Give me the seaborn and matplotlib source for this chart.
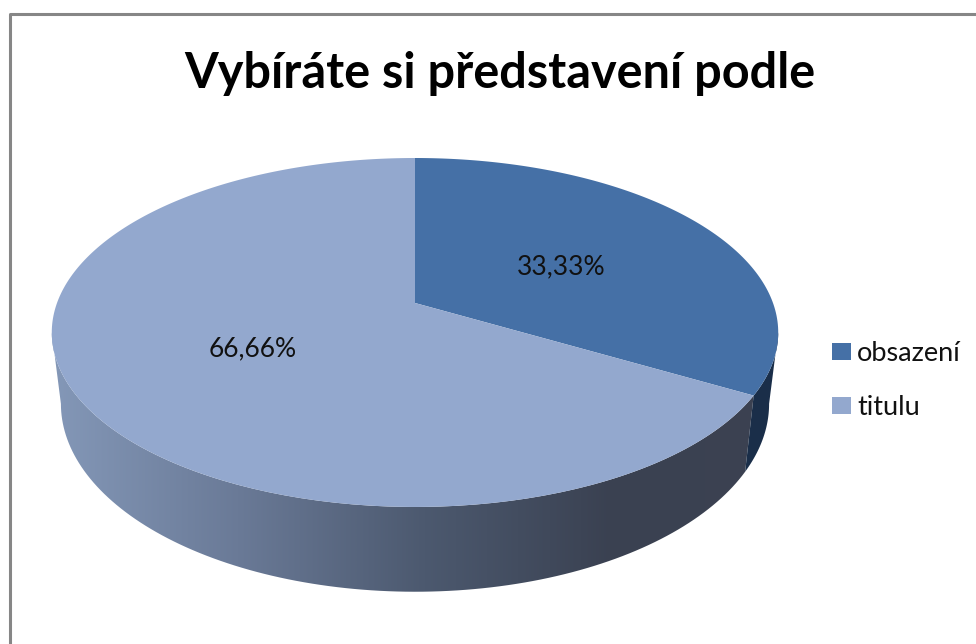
import numpy as np
import matplotlib
matplotlib.use("Agg")
import matplotlib.pyplot as plt
import seaborn as sns
from matplotlib.path import Path
from matplotlib.patches import PathPatch
from matplotlib.transforms import Transform

title = "Vybíráte si představení podle"
labels = ["obsazení", "titulu"]
values = [33.33, 66.66]
value_labels = ["33,33%", "66,66%"]
colors = ["#4570A6", "#93A8CE"]
side_dark = "#1A2E49"
side_ramp = ["#8498B8", "#6A7A97", "#4C596F", "#3A4151", "#3C4252"]

sns.set_theme(style="white")
plt.rcParams["font.family"] = ["Lato", "DejaVu Sans"]

# tilted disc: unit circle to picture pixels
PERSP = 0.169


def project(u, v, x0=415, y0=303, bx=358, ay=169.5):
    w = 1 + PERSP * v
    return x0 + bx * u / w, y0 - ay * v / w


class TiltedDisc(Transform):
    input_dims = output_dims = 2

    def transform_non_affine(self, xy):
        x, y = project(xy[:, 0], xy[:, 1])
        return np.column_stack([x, y])

    def transform_path_non_affine(self, path):
        # flatten the arcs first so the outline stays smooth
        pts = path.transformed(matplotlib.transforms.Affine2D().scale(2000)).to_polygons()[0] / 2000
        return Path(self.transform_non_affine(pts), closed=True)


def side_outline(start, end):
    th = np.radians(np.linspace(start, end, 120))
    top = project(np.sin(th), np.cos(th))
    bottom = project(np.sin(th)[::-1], np.cos(th)[::-1], y0=372, bx=349, ay=182.6)
    return np.concatenate([top[0], bottom[0]]), np.concatenate([top[1], bottom[1]])


fig = plt.figure(figsize=(9.76, 6.44), dpi=100)
ax = fig.add_axes([0, 0, 1, 1])

wedges, _ = ax.pie(values, colors=colors, startangle=90, counterclock=False,
                   wedgeprops={"linewidth": 0, "zorder": 3})
disc = TiltedDisc()
for wedge in wedges:
    wedge.set_transform(disc + ax.transData)

# side wall, angles taken from the slices
split = 360 * values[0] / sum(values)
tangent = np.degrees(np.arccos(-PERSP))

sx, sy = side_outline(split, 360 - tangent)
wall = PathPatch(Path(np.column_stack([sx, sy]), closed=False), facecolor="none", linewidth=0)
ax.add_patch(wall)
ramp = sns.blend_palette(side_ramp, as_cmap=True)
grad = ax.imshow(np.linspace(0, 1, 256).reshape(1, -1), cmap=ramp, aspect="auto",
                 extent=(50, 800, 600, 300), zorder=1, interpolation="bilinear")
grad.set_clip_path(wall)

dx, dy = side_outline(tangent, split)
ax.fill(dx, dy, color=side_dark, linewidth=0, zorder=1)

ax.set_aspect("auto")
ax.set_xlim(0, 976)
ax.set_ylim(644, 0)
ax.set_frame_on(False)

# chart frame
ax.plot([9.5, 9.5, 976], [644, 14, 14], color="#868686", linewidth=2.2, zorder=5)

ax.text(500, 88, title, ha="center", va="baseline", fontsize=35, fontweight="bold", color="black")
ax.text(561, 274, value_labels[0], ha="center", va="baseline", fontsize=19, color="#111111", zorder=6)
ax.text(253, 356, value_labels[1], ha="center", va="baseline", fontsize=19, color="#111111", zorder=6)

ax.legend(wedges, labels, loc="upper left", bbox_to_anchor=(832 / 976, 1 - 341 / 644),
          frameon=False, fontsize=19.5, handlelength=0.7, handleheight=0.6,
          handletextpad=0.22, labelspacing=1.07, borderpad=0, borderaxespad=0,
          labelcolor="#111111")

fig.savefig("out.png", dpi=100, facecolor="white")
